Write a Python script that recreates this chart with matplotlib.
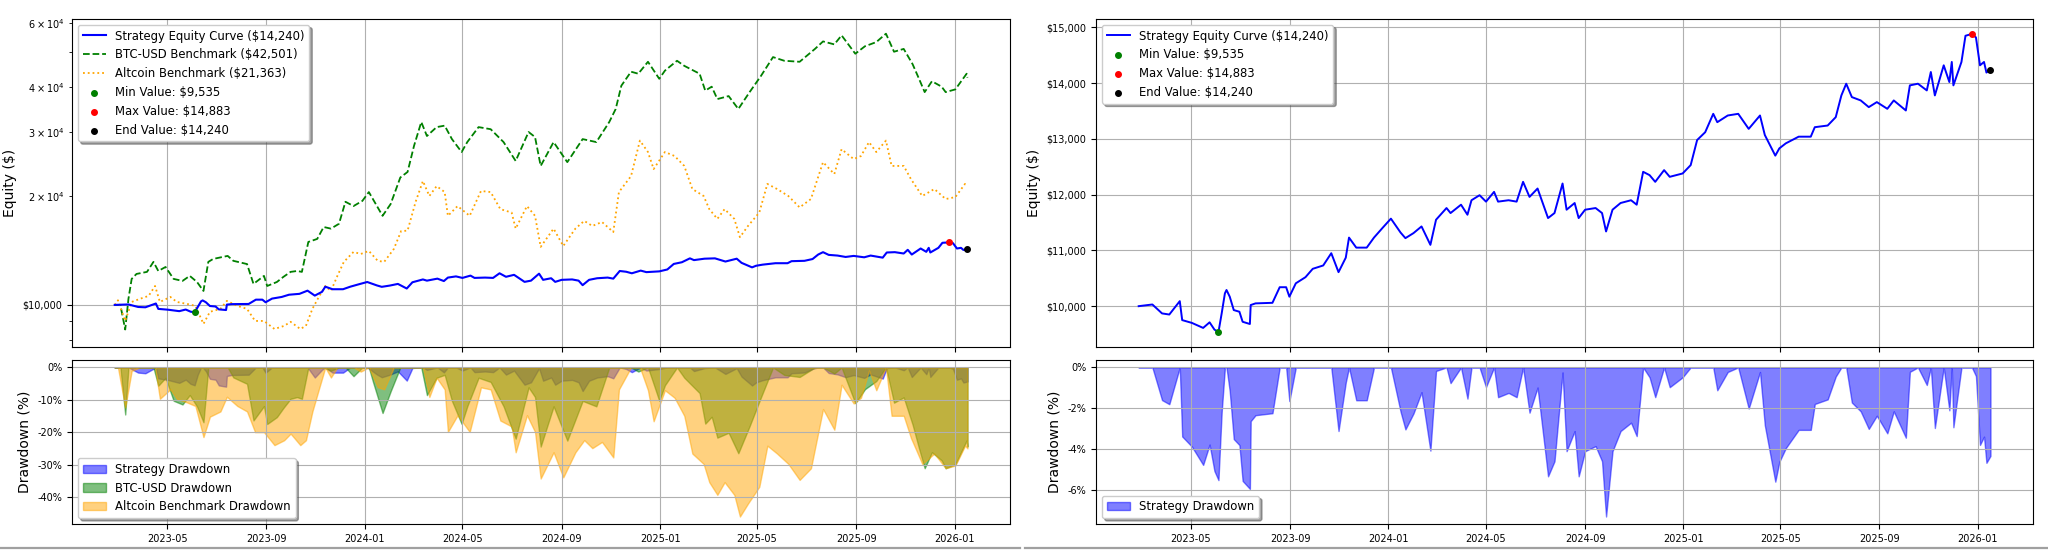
import numpy as np
import pandas as pd
import matplotlib
matplotlib.use("Agg")
import matplotlib.pyplot as plt
import matplotlib.dates as mdates
from matplotlib.ticker import FuncFormatter, MultipleLocator
from matplotlib.lines import Line2D

# ---- data (equity in $) ----
strat_dates = [
    "2023-02-25", "2023-03-14", "2023-03-26", "2023-04-04", "2023-04-17", "2023-04-20",
    "2023-05-02", "2023-05-16", "2023-05-24", "2023-05-30", "2023-06-04", "2023-06-08",
    "2023-06-12", "2023-06-14", "2023-06-18", "2023-06-23", "2023-06-30", "2023-07-04",
    "2023-07-13", "2023-07-14", "2023-07-20", "2023-08-10", "2023-08-19", "2023-08-27",
    "2023-08-31", "2023-09-08", "2023-09-20", "2023-09-29", "2023-10-12", "2023-10-22",
    "2023-10-31", "2023-11-09", "2023-11-13", "2023-11-22", "2023-12-05", "2023-12-14",
    "2023-12-25", "2024-01-04", "2024-01-16", "2024-01-22", "2024-02-01", "2024-02-11",
    "2024-02-22", "2024-02-29", "2024-03-13", "2024-03-18", "2024-03-31", "2024-04-08",
    "2024-04-13", "2024-04-23", "2024-05-01", "2024-05-11", "2024-05-16", "2024-05-29",
    "2024-06-08", "2024-06-16", "2024-06-24", "2024-07-04", "2024-07-17", "2024-07-25",
    "2024-08-04", "2024-08-09", "2024-08-19", "2024-08-24", "2024-09-01", "2024-09-14",
    "2024-09-22", "2024-09-27", "2024-10-05", "2024-10-15", "2024-10-28", "2024-11-04",
    "2024-11-12", "2024-11-20", "2024-11-27", "2024-12-08", "2024-12-15", "2024-12-31",
    "2025-01-10", "2025-01-18", "2025-01-28", "2025-02-07", "2025-02-12", "2025-02-25",
    "2025-03-10", "2025-03-23", "2025-04-06", "2025-04-12", "2025-04-25", "2025-04-30",
    "2025-05-08", "2025-05-24", "2025-06-08", "2025-06-13", "2025-06-29", "2025-07-09",
    "2025-07-16", "2025-07-22", "2025-07-29", "2025-08-09", "2025-08-19", "2025-08-29",
    "2025-09-11", "2025-09-19", "2025-10-04", "2025-10-09", "2025-10-19", "2025-10-30",
    "2025-11-04", "2025-11-09", "2025-11-20", "2025-11-27", "2025-11-30", "2025-12-02",
    "2025-12-12", "2025-12-17", "2025-12-25", "2025-12-30", "2026-01-04", "2026-01-09",
    "2026-01-12", "2026-01-17",
]
strat_values = [
    10000, 10030, 9870, 9850, 10090, 9750,
    9700, 9610, 9710, 9580, 9535, 9870,
    10230, 10290, 10170, 9930, 9900, 9720,
    9680, 10020, 10050, 10060, 10340, 10340,
    10170, 10410, 10520, 10670, 10730, 10950,
    10610, 10870, 11230, 11050, 11050, 11230,
    11410, 11570, 11320, 11220, 11310, 11430,
    11100, 11550, 11760, 11670, 11820, 11640,
    11900, 11990, 11875, 12050, 11875, 11900,
    11875, 12230, 11960, 12110, 11580, 11670,
    12200, 11730, 11850, 11580, 11730, 11760,
    11670, 11340, 11730, 11850, 11900, 11820,
    12410, 12350, 12230, 12440, 12320, 12380,
    12530, 12980, 13120, 13450, 13300, 13420,
    13450, 13180, 13420, 13070, 12700, 12830,
    12920, 13040, 13040, 13210, 13240, 13390,
    13780, 13990, 13750, 13690, 13570, 13660,
    13540, 13690, 13510, 13960, 13990, 13870,
    14200, 13780, 14320, 14020, 14380, 13960,
    14380, 14850, 14883, 14820, 14320, 14380,
    14190, 14240,
]

btc_dates = [
    "2023-02-25", "2023-03-04", "2023-03-10", "2023-03-14", "2023-03-18", "2023-03-24",
    "2023-04-06", "2023-04-14", "2023-04-20", "2023-04-29", "2023-05-09", "2023-05-20",
    "2023-05-29", "2023-06-07", "2023-06-15", "2023-06-21", "2023-06-27", "2023-07-15",
    "2023-07-22", "2023-08-08", "2023-08-16", "2023-08-29", "2023-09-02", "2023-09-14",
    "2023-09-22", "2023-10-01", "2023-10-09", "2023-10-15", "2023-10-23", "2023-11-03",
    "2023-11-11", "2023-11-20", "2023-11-30", "2023-12-08", "2023-12-18", "2023-12-29",
    "2024-01-06", "2024-01-11", "2024-01-23", "2024-02-02", "2024-02-14", "2024-02-23",
    "2024-03-02", "2024-03-11", "2024-03-18", "2024-03-30", "2024-04-09", "2024-04-18",
    "2024-04-30", "2024-05-07", "2024-05-21", "2024-06-05", "2024-06-21", "2024-07-06",
    "2024-07-22", "2024-07-30", "2024-08-06", "2024-08-22", "2024-09-08", "2024-09-27",
    "2024-10-14", "2024-10-30", "2024-11-07", "2024-11-14", "2024-11-26", "2024-12-05",
    "2024-12-17", "2024-12-31", "2025-01-07", "2025-01-22", "2025-01-31", "2025-02-19",
    "2025-02-26", "2025-03-06", "2025-03-13", "2025-03-27", "2025-04-08", "2025-04-22",
    "2025-05-06", "2025-05-21", "2025-06-04", "2025-06-23", "2025-07-12", "2025-07-22",
    "2025-08-05", "2025-08-14", "2025-08-31", "2025-09-12", "2025-09-26", "2025-10-08",
    "2025-10-18", "2025-10-30", "2025-11-10", "2025-11-18", "2025-11-25", "2025-12-04",
    "2025-12-16", "2025-12-21", "2026-01-02", "2026-01-16", "2026-01-17",
]
btc_values = [
    10000, 10000, 8550, 10390, 11800, 12180,
    12340, 13150, 12410, 12730, 11800, 11650,
    12030, 11570, 10930, 13150, 13400, 13660,
    13240, 12970, 11430, 12030, 11280, 11570,
    11950, 12340, 12410, 12340, 14930, 15220,
    16420, 16250, 16760, 19280, 18760, 19390,
    20510, 19620, 17630, 19000, 22500, 23310,
    27520, 32030, 29300, 31010, 31300, 28730,
    26460, 28190, 31010, 30600, 28190, 25000,
    30060, 29110, 24220, 28190, 24810, 28730,
    28190, 32030, 34800, 40360, 44120, 43560,
    47000, 42170, 44420, 47300, 45800, 43560,
    39110, 40110, 37070, 37780, 34800, 38750,
    42930, 48420, 47300, 47000, 51010, 53500,
    52500, 55600, 49470, 51880, 53270, 56200,
    50100, 51010, 46300, 42170, 38750, 41520,
    40110, 38750, 39420, 43560, 42501,
]

alt_dates = [
    "2023-02-25", "2023-03-01", "2023-03-10", "2023-03-18", "2023-03-28", "2023-04-08",
    "2023-04-16", "2023-04-22", "2023-05-05", "2023-05-13", "2023-05-26", "2023-06-05",
    "2023-06-15", "2023-06-23", "2023-07-06", "2023-07-14", "2023-07-27", "2023-08-08",
    "2023-08-18", "2023-08-29", "2023-09-11", "2023-09-23", "2023-10-01", "2023-10-13",
    "2023-10-20", "2023-10-28", "2023-11-05", "2023-11-13", "2023-11-20", "2023-11-28",
    "2023-12-06", "2023-12-18", "2023-12-27", "2024-01-06", "2024-01-17", "2024-01-25",
    "2024-02-06", "2024-02-15", "2024-02-23", "2024-03-04", "2024-03-13", "2024-03-21",
    "2024-03-30", "2024-04-09", "2024-04-13", "2024-04-25", "2024-05-10", "2024-05-24",
    "2024-06-05", "2024-06-17", "2024-07-01", "2024-07-06", "2024-07-20", "2024-07-30",
    "2024-08-06", "2024-08-22", "2024-09-03", "2024-09-18", "2024-09-29", "2024-10-09",
    "2024-10-21", "2024-11-04", "2024-11-11", "2024-11-26", "2024-12-07", "2024-12-17",
    "2024-12-24", "2025-01-07", "2025-01-19", "2025-01-31", "2025-02-10", "2025-02-24",
    "2025-03-03", "2025-03-13", "2025-03-22", "2025-04-03", "2025-04-10", "2025-04-20",
    "2025-05-04", "2025-05-14", "2025-05-26", "2025-06-09", "2025-06-23", "2025-07-07",
    "2025-07-22", "2025-08-05", "2025-08-14", "2025-08-29", "2025-09-07", "2025-09-17",
    "2025-09-26", "2025-10-08", "2025-10-15", "2025-10-30", "2025-11-08", "2025-11-22",
    "2025-12-07", "2025-12-21", "2026-01-02", "2026-01-14", "2026-01-17",
]
alt_values = [
    10000, 10300, 9030, 10190, 10390, 10590,
    11280, 10190, 10520, 10190, 10060, 9940,
    8860, 9570, 9750, 10260, 9940, 9750,
    9030, 9030, 8580, 8750, 8980, 8580,
    8750, 9750, 10520, 11280, 10930, 12030,
    13150, 14010, 13830, 14100, 13240, 13150,
    14280, 16000, 16040, 19280, 22000, 20000,
    21300, 20510, 17630, 18760, 17630, 20650,
    20510, 18400, 18000, 16250, 18760, 17630,
    14470, 16250, 14550, 16250, 17070, 16530,
    16950, 15900, 20510, 22700, 28460, 26460,
    23740, 26460, 25800, 24220, 20910, 20000,
    18400, 17290, 18400, 17290, 15390, 16530,
    18000, 21600, 20910, 20000, 18600, 19620,
    24810, 23000, 26940, 25300, 25800, 28190,
    26460, 28460, 24220, 24220, 22270, 20000,
    20910, 19620, 19860, 21600, 21363,
]

s_dates = pd.to_datetime(strat_dates)
b_dates = pd.to_datetime(btc_dates)
a_dates = pd.to_datetime(alt_dates)
s_vals = np.array(strat_values, dtype=float)
b_vals = np.array(btc_values, dtype=float)
a_vals = np.array(alt_values, dtype=float)


def drawdown(v):
    return (v / np.maximum.accumulate(v) - 1.0) * 100.0


s_dd = drawdown(s_vals)
b_dd = drawdown(b_vals)
a_dd = drawdown(a_vals)

i_min = int(np.argmin(s_vals))
i_max = int(np.argmax(s_vals))

money = FuncFormatter(lambda x, p: f"${x:,.0f}")
pct = FuncFormatter(lambda x, p: f"{x:.0f}%")

TICK = 7.0
LEG = 8.4
LAB = 10.0

fig = plt.figure(figsize=(20.48, 5.56), dpi=100)

axL = fig.add_axes([0.0352, 0.3759, 0.4580, 0.5899])
axLd = fig.add_axes([0.0352, 0.0576, 0.4580, 0.2950], sharex=axL)
axR = fig.add_axes([0.5352, 0.3759, 0.4575, 0.5899])
axRd = fig.add_axes([0.5352, 0.0576, 0.4575, 0.2950], sharex=axR)


def markers(ax):
    ax.scatter(s_dates[i_min], s_vals[i_min], color="green", s=16, zorder=5,
               label=f"Min Value: ${s_vals[i_min]:,.0f}")
    ax.scatter(s_dates[i_max], s_vals[i_max], color="red", s=16, zorder=5,
               label=f"Max Value: ${s_vals[i_max]:,.0f}")
    ax.scatter(s_dates[-1], s_vals[-1], color="black", s=16, zorder=5,
               label=f"End Value: ${s_vals[-1]:,.0f}")


# left: strategy vs benchmarks (log)
axL.plot(s_dates, s_vals, color="blue", lw=1.5, zorder=3,
         label=f"Strategy Equity Curve (${s_vals[-1]:,.0f})")
axL.plot(b_dates, b_vals, color="green", lw=1.3, ls="--",
         label=f"BTC-USD Benchmark (${b_vals[-1]:,.0f})")
axL.plot(a_dates, a_vals, color="orange", lw=1.3, ls=":",
         label=f"Altcoin Benchmark (${a_vals[-1]:,.0f})")
markers(axL)
axL.set_yscale("log")
axL.set_ylim(7650, 61700)
axL.yaxis.set_major_formatter(money)
axL.set_ylabel("Equity ($)", fontsize=LAB)
axL.grid(True)
axL.legend(loc="upper left", fontsize=LEG, shadow=True)

axLd.fill_between(s_dates, s_dd, 0, color="blue", alpha=0.5, label="Strategy Drawdown")
axLd.fill_between(b_dates, b_dd, 0, color="green", alpha=0.5, label="BTC-USD Drawdown")
axLd.fill_between(a_dates, a_dd, 0, color="orange", alpha=0.5,
                  label="Altcoin Benchmark Drawdown")
axLd.set_ylabel("Drawdown (%)", fontsize=LAB)
axLd.yaxis.set_major_locator(MultipleLocator(10))
axLd.yaxis.set_major_formatter(pct)
axLd.grid(True)
axLd.legend(loc="lower left", fontsize=LEG, shadow=True)

# right: strategy only
axR.plot(s_dates, s_vals, color="blue", lw=1.4,
         label=f"Strategy Equity Curve (${s_vals[-1]:,.0f})")
markers(axR)
axR.yaxis.set_major_formatter(money)
axR.set_ylabel("Equity ($)", fontsize=LAB)
axR.grid(True)
axR.legend(loc="upper left", fontsize=LEG, shadow=True)

axRd.fill_between(s_dates, s_dd, 0, color="blue", alpha=0.5, label="Strategy Drawdown")
axRd.set_ylabel("Drawdown (%)", fontsize=LAB)
axRd.yaxis.set_major_locator(MultipleLocator(2))
axRd.yaxis.set_major_formatter(pct)
axRd.grid(True)
axRd.legend(loc="lower left", fontsize=LEG, shadow=True)

for ax in (axL, axR, axLd, axRd):
    ax.tick_params(labelsize=TICK, which="both")
    ax.xaxis.set_major_locator(mdates.MonthLocator(bymonth=[1, 5, 9]))
    ax.xaxis.set_major_formatter(mdates.DateFormatter("%Y-%m"))
for ax in (axL, axR):
    ax.tick_params(axis="x", labelbottom=False)

# thin separators under each half, as in the screenshot
fig.add_artist(Line2D([0.0, 0.498], [0.0144, 0.0144], color="#a0a0a0", lw=1.6))
fig.add_artist(Line2D([0.5005, 1.0], [0.0144, 0.0144], color="#a0a0a0", lw=1.6))

fig.savefig("out.png", dpi=100)
